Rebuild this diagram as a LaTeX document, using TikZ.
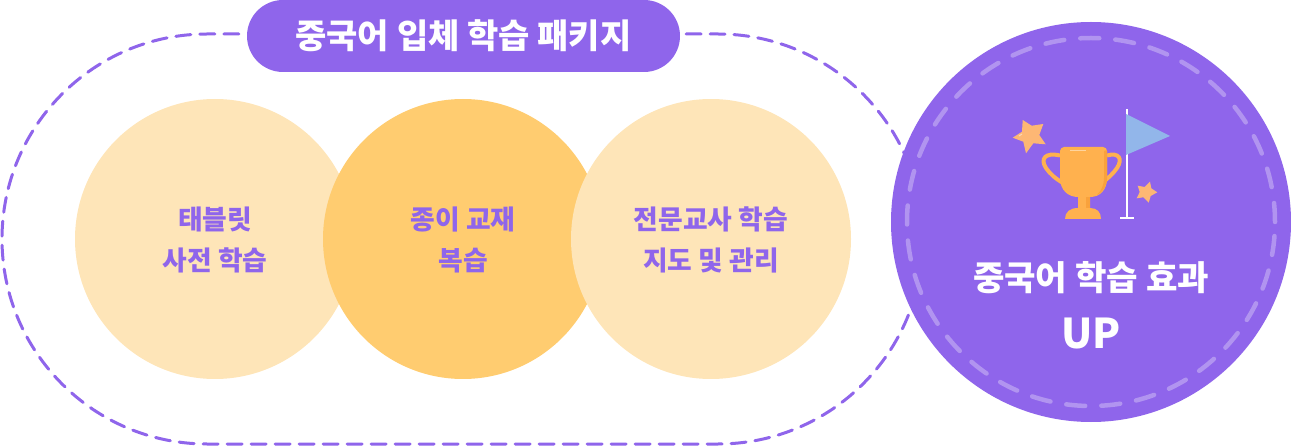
\documentclass[tikz,border=0pt]{standalone}
\usepackage{fontspec}
\newfontfamily\kr{Noto Sans CJK KR}[Scale=1]
\definecolor{pur}{HTML}{8F65EB}
\definecolor{pale}{HTML}{FEE5B8}
\definecolor{gold}{HTML}{FFCC70}
\definecolor{trophy}{HTML}{FFB14E}
\definecolor{trophyd}{HTML}{F9A23C}
\definecolor{star}{HTML}{FDB774}
\definecolor{flag}{HTML}{92B6EA}
\definecolor{dashc}{HTML}{B194F0}
\tikzset{
  px/.style={x=1pt,y=-1pt},
  disc/.style={circle,minimum size=280pt,inner sep=0pt},
  disclabel/.style={inner sep=0pt,text=pur,align=center,font=\kr\fontsize{26.8}{41}\selectfont\bfseries},
  wtext/.style={text=white,font=\kr\bfseries,inner sep=0pt},
  handle/.style={trophy,line width=4pt},
  gleam/.style={white,opacity=.45,line width=1pt},
}
\begin{document}
\begin{tikzpicture}[px]
\useasboundingbox (0,0) rectangle (1291,446);
\draw[pur,line width=3pt,dash pattern=on 15pt off 9pt,line cap=round]
  (686,34) -- (718,34) arc[start angle=90,end angle=-90,radius=205pt] -- (207,444)
  arc[start angle=270,end angle=90,radius=205pt] -- (244,34);
\node[disc,fill=pale] (a) at (215,239) {};
\node[disc,fill=gold] (b) at (463,239) {};
\node[disc,fill=pale] (c) at (711,239) {};
\node[disclabel] (la) at (215,240) {태블릿\\사전 학습};
\node[disclabel] (lb) at (463,240) {종이 교재\\복습};
\node[disclabel] (lc) at (711,240) {전문교사 학습\\지도 및 관리};
\node[rounded corners=36pt,fill=pur,minimum width=433pt,minimum height=72pt,inner sep=0pt,wtext] (t) at (463.5,36)
  {\fontsize{34}{36}\selectfont 중국어 입체 학습 패키지};
\node[circle,fill=pur,minimum size=400pt,inner sep=0pt] (m) at (1091,222) {};
\draw[dashc,line width=4.5pt,dash pattern=on 19pt off 16.1pt,line cap=round] (m.center) ++(184,0) arc[start angle=0,end angle=360,radius=184pt];
\node[wtext] (e1) at (1091,278) {\fontsize{34.2}{36}\selectfont 중국어 학습 효과};
\node[wtext] (e2) at (1091,334) {\fontsize{41}{44}\selectfont UP};
% flag
\draw[white,line width=2pt] (1127,109) -- (1127,218);
\draw[white,line width=2pt] (1120,218) -- (1134,218);
\fill[flag] (1126,114) -- (1170,136) -- (1126,155) -- cycle;
% stars
\fill[star] (1022.7,120) -- (1031.7,125.7) -- (1043.3,124) -- (1039.3,135) -- (1045.7,144.3) -- (1033.3,143.3) -- (1026,153.3) -- (1023.3,141.7) -- (1012.7,137.7) -- (1022,131.7) -- cycle;
\draw[gleam] (1019,136) -- (1022,134);
\fill[star] (1150,181.7) -- (1151.3,188.3) -- (1157.3,192.3) -- (1150.7,196) -- (1148.7,202.7) -- (1143.3,197.3) -- (1136.7,198.3) -- (1139.7,192) -- (1137.7,185.7) -- (1144.7,187) -- cycle;
% trophy
\draw[handle] (1060,155.5) .. controls (1045,152) and (1040,159) .. (1046,168) .. controls (1050,174) and (1056,179) .. (1063,183);
\draw[handle] (1107,155.5) .. controls (1119,152) and (1123,159) .. (1117,168) .. controls (1113,174) and (1107,179) .. (1103,182);
\fill[trophy] (1064,147) -- (1103,147) .. controls (1105.5,147) and (1107,149) .. (1107,151) -- (1107,178)
  .. controls (1107,190) and (1100,197) .. (1090,197) -- (1090,208)
  .. controls (1097,208) and (1101,212) .. (1101,219) -- (1065,219)
  .. controls (1065,212) and (1070,208) .. (1078,208) -- (1078,197)
  .. controls (1068,197) and (1060,190) .. (1060,178) -- (1060,151) .. controls (1060,149) and (1062,147) .. (1064,147) -- cycle;
\fill[trophyd] (1086,197) -- (1090,197) -- (1090,208) -- (1086,208) -- cycle;
\fill[trophyd] (1104,151) .. controls (1106,150) and (1107,150) .. (1107,151) -- (1107,178) .. controls (1107,186) and (1103,192) .. (1097,195) .. controls (1102,190) and (1104,184) .. (1104,178) -- cycle;
\draw[gleam] (1070,151) -- (1086,151);
\end{tikzpicture}
\end{document}
